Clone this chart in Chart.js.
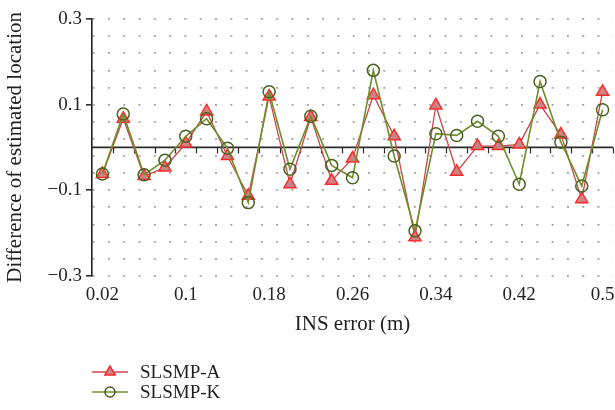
<!DOCTYPE html>
<html>
<head>
<meta charset="utf-8">
<title>SLSMP-A vs SLSMP-K</title>
<script src="https://cdn.jsdelivr.net/npm/chart.js@4"></script>
<style>
  html, body { margin: 0; padding: 0; background: #ffffff; }
  #wrap { width: 615px; height: 410px; }
</style>
</head>
<body>
<div id="wrap"><canvas id="chart" width="615" height="410"></canvas></div>
<script>
// INS error values along the x axis (m)
const insError = ['0.02','0.04','0.06','0.08','0.1','0.12','0.14','0.16','0.18','0.2',
                  '0.22','0.24','0.26','0.28','0.3','0.32','0.34','0.36','0.38','0.4',
                  '0.42','0.44','0.46','0.48','0.5'];

// Difference of estimated location for each method
const slsmpA = [-0.062, 0.067, -0.067, -0.047, 0.009, 0.084, -0.020, -0.113, 0.119, -0.086,
                 0.071, -0.078, -0.026, 0.122, 0.026, -0.210, 0.098, -0.057, 0.003, 0.003,
                 0.007, 0.100, 0.030, -0.121, 0.130];
const slsmpK = [-0.062, 0.078, -0.064, -0.030, 0.026, 0.067, -0.002, -0.129, 0.130, -0.051,
                 0.073, -0.042, -0.071, 0.180, -0.020, -0.195, 0.032, 0.028, 0.061, 0.026,
                -0.086, 0.154, 0.012, -0.090, 0.088];

// Y axis: dotted grid rows and the subset that carries a label
const yGridValues = [-0.3, -0.26, -0.22, -0.18, -0.14, -0.1, -0.06, -0.02,
                      0.02, 0.06, 0.1, 0.14, 0.18, 0.22, 0.26, 0.3];
const yTickLabels = [0.3, 0.1, -0.1, -0.3];
// every fourth INS error value is labelled
const xLabelStep = 4;

const INK = '#231f20';
const FONT = '"Liberation Serif", "Times New Roman", Times, serif';

const isLabelled = v => yTickLabels.some(t => Math.abs(t - v) < 1e-9);
const fmt = v => (v < 0 ? '\u2212' : '') + Math.abs(v).toString();

// draws a marker the same way for the legend
function drawMarker(ctx, style, r, x, y) {
  ctx.beginPath();
  if (style === 'triangle') {
    ctx.moveTo(x, y - r);
    ctx.lineTo(x + r * Math.cos(Math.PI / 6), y + r * 0.5);
    ctx.lineTo(x - r * Math.cos(Math.PI / 6), y + r * 0.5);
    ctx.closePath();
  } else {
    ctx.arc(x, y, r, 0, Math.PI * 2);
  }
  ctx.fill();
  ctx.stroke();
}

// solid zero line with small ticks between categories
const zeroLine = {
  id: 'zeroLine',
  beforeDatasetsDraw(chart) {
    const {ctx, chartArea, scales: {x, y}} = chart;
    const y0 = y.getPixelForValue(0);
    ctx.save();
    ctx.strokeStyle = '#2b2b2b';
    ctx.lineWidth = 1.6;
    ctx.beginPath();
    ctx.moveTo(chartArea.left, y0);
    ctx.lineTo(chartArea.right, y0);
    ctx.stroke();
    ctx.lineWidth = 1.2;
    const n = insError.length;
    for (let i = 0; i < n; i++) {
      const a = x.getPixelForValue(i);
      const b = i + 1 < n ? x.getPixelForValue(i + 1) : a + (a - x.getPixelForValue(i - 1));
      const xb = Math.round((a + b) / 2) + 0.5;
      ctx.beginPath();
      ctx.moveTo(xb, y0);
      ctx.lineTo(xb, y0 + 6);
      ctx.stroke();
    }
    ctx.restore();
  }
};

// stacked legend under the plot
const stackedLegend = {
  id: 'stackedLegend',
  afterDraw(chart) {
    const {ctx, chartArea} = chart;
    const left = chartArea.left;
    ctx.save();
    chart.data.datasets.forEach((ds, i) => {
      const ly = chart.height - 38 + i * 20;
      ctx.strokeStyle = ds.borderColor;
      ctx.lineWidth = ds.borderWidth;
      ctx.beginPath();
      ctx.moveTo(left, ly);
      ctx.lineTo(left + 36, ly);
      ctx.stroke();
      ctx.fillStyle = ds.pointBackgroundColor;
      ctx.strokeStyle = ds.pointBorderColor;
      ctx.lineWidth = ds.pointBorderWidth;
      drawMarker(ctx, ds.pointStyle, ds.pointRadius - 1, left + 18, ly);
      ctx.fillStyle = INK;
      ctx.font = '19px ' + FONT;
      ctx.textAlign = 'left';
      ctx.textBaseline = 'middle';
      ctx.fillText(ds.label, left + 48, ly + 1);
    });
    ctx.restore();
  }
};

Chart.defaults.font.family = FONT;
Chart.defaults.font.size = 19;
Chart.defaults.color = INK;

new Chart(document.getElementById('chart'), {
  type: 'line',
  data: {
    labels: insError,
    datasets: [
      {
        label: 'SLSMP-A',
        data: slsmpA,
        borderColor: '#c8484a',
        borderWidth: 1.3,
        pointStyle: 'triangle',
        pointRadius: 7,
        pointBackgroundColor: '#c98585',
        pointBorderColor: '#ff2b2b',
        pointBorderWidth: 1.5,
        tension: 0,
        order: 1
      },
      {
        label: 'SLSMP-K',
        data: slsmpK,
        borderColor: '#6e8e2c',
        borderWidth: 1.6,
        pointStyle: 'circle',
        pointRadius: 6,
        pointBackgroundColor: 'rgba(0,0,0,0)',
        pointBorderColor: '#4a6220',
        pointBorderWidth: 1.5,
        tension: 0,
        order: 0
      }
    ]
  },
  options: {
    responsive: false,
    animation: false,
    layout: { autoPadding: false, padding: { left: 3, right: 2, top: 19, bottom: 72.6 } },
    plugins: {
      legend: { display: false },
      tooltip: { enabled: false }
    },
    scales: {
      x: {
        type: 'category',
        offset: true,
        grid: { display: false, drawTicks: false },
        border: { display: false },
        ticks: {
          autoSkip: false,
          maxRotation: 0,
          padding: 8,
          callback(value, index) {
            return index % xLabelStep === 0 ? insError[index] : '';
          }
        },
        title: {
          display: true,
          text: 'INS error (m)',
          padding: { top: 0, bottom: 0 },
          font: { size: 21 }
        },
        afterFit(scale) {
          scale.height = 61.6;
          scale.paddingLeft = 0;
          scale.paddingRight = 0;
        }
      },
      y: {
        min: -0.3,
        max: 0.3,
        afterBuildTicks(scale) {
          scale.ticks = yGridValues.map(v => ({ value: v }));
        },
        grid: {
          color: '#a3a3a3',
          lineWidth: 1.7,
          tickLength: 6,
          tickWidth: 1.5,
          tickColor: ctx => (ctx.tick && isLabelled(ctx.tick.value)) ? INK : 'rgba(0,0,0,0)'
        },
        border: { display: true, color: INK, width: 1.6, dash: [2, 13.3] },
        ticks: {
          padding: 4,
          autoSkip: false,
          callback(value) { return isLabelled(value) ? fmt(value) : ''; }
        },
        title: {
          display: true,
          text: 'Difference of estimated location',
          padding: { top: 0, bottom: 0 },
          font: { size: 21 }
        },
        afterFit(scale) {
          scale.width = 89;
          scale.paddingTop = 0;
          scale.paddingBottom = 0;
        }
      }
    }
  },
  plugins: [zeroLine, stackedLegend]
});
</script>
</body>
</html>
